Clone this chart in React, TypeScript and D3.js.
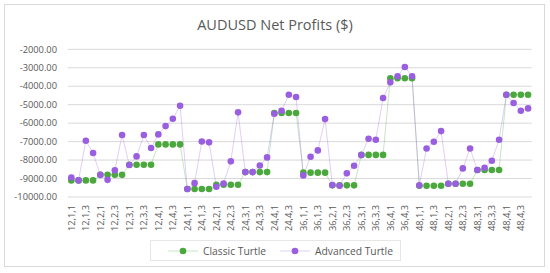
import * as d3 from 'd3';
import React from 'react';

const periods = [12, 24, 36, 48]
const groups = [1, 2, 3, 4]
const steps = [1, 2, 3, 4]
const categories = periods.flatMap(p => groups.flatMap(g => steps.map(s => `${p},${g},${s}`)))

const classicTurtle = [
    -9100, -9100, -9100, -9100, -8800, -8800, -8800, -8800,
    -8250, -8250, -8250, -8250, -7150, -7150, -7150, -7150,
    -9570, -9570, -9570, -9570, -9340, -9340, -9340, -9340,
    -8650, -8650, -8650, -8650, -5450, -5450, -5450, -5450,
    -8680, -8680, -8680, -8680, -9370, -9370, -9370, -9370,
    -7720, -7720, -7720, -7720, -3570, -3570, -3570, -3570,
    -9390, -9390, -9390, -9390, -9280, -9280, -9280, -9280,
    -8540, -8540, -8540, -8540, -4460, -4460, -4460, -4460,
]

const advancedTurtle = [
    -8940, -9100, -6950, -7620, -8800, -9070, -8560, -6645,
    -8270, -7800, -6645, -7350, -6610, -6160, -5760, -5055,
    -9570, -9250, -6990, -7040, -9445, -9265, -8070, -5415,
    -8650, -8650, -8290, -7855, -5490, -5330, -4460, -4585,
    -8830, -7820, -7475, -5780, -9350, -9390, -8720, -8310,
    -7730, -6845, -6900, -4640, -3790, -3465, -2960, -3465,
    -9370, -7370, -7010, -6430, -9280, -9280, -8450, -7370,
    -8540, -8415, -8035, -6900, -4460, -4910, -5330, -5200,
]

const yTicks = [-2000, -3000, -4000, -5000, -6000, -7000, -8000, -9000, -10000]

const series = [
    { name: 'Classic Turtle', values: classicTurtle, color: '#4aa83c' },
    { name: 'Advanced Turtle', values: advancedTurtle, color: '#9a5ee0' },
]

const W = 550
const H = 273
const font = '"Open Sans", "DejaVu Sans", sans-serif'
const textColor = '#595959'

export default function App() {
    const x = d3.scaleBand().domain(categories).range([67.7, 531.7])
    const y = d3.scaleLinear().domain([-10000, -2000]).range([197, 49.3])
    const cx = (i: number) => x(categories[i])! + x.bandwidth() / 2

    const line = d3.line<number>()
        .x((d, i) => cx(i))
        .y(d => y(d))

    return (
        <svg width={W} height={H} style={{ position: 'absolute', left: 0, top: 0, background: '#fff' }}
            fontFamily={font}>
            <rect x={4.5} y={4.5} width={540} height={262} fill="#fff" stroke="#d9d9d9" />
            <text x={W / 2} y={30} textAnchor="middle" fontSize={14.5} fill={textColor}>AUDUSD Net Profits ($)</text>

            {yTicks.map(t => (
                <g key={t}>
                    <line x1={67.7} x2={531.7} y1={y(t)} y2={y(t)} stroke="#d9d9d9" strokeWidth={1} />
                    <text x={57} y={y(t)} dy="0.35em" textAnchor="end" fontSize={9.3} fill={textColor}>{t.toFixed(2)}</text>
                </g>
            ))}

            {categories.map((c, i) => i % 2 === 0 ? (
                <text key={c} transform={`translate(${cx(i)},205) rotate(-90)`} dy="0.35em" textAnchor="end"
                    fontSize={9.3} fill={textColor}>{c}</text>
            ) : null)}

            {series.map(s => (
                <path key={s.name + 'l'} d={line(s.values)!} fill="none" stroke={s.color} strokeOpacity={0.3} strokeWidth={1} />
            ))}
            {series.map(s => (
                <g key={s.name}>
                    {s.values.map((v, i) => (
                        <circle key={i} cx={cx(i)} cy={y(v)} r={3.3} fill={s.color} />
                    ))}
                </g>
            ))}

            <rect x={150.5} y={240.5} width={250} height={20} fill="none" stroke="#e6e6e6" />
            {series.map((s, k) => {
                const lx = k === 0 ? 168 : 280
                return (
                    <g key={s.name + 'leg'}>
                        <line x1={lx} x2={lx + 30} y1={251} y2={251} stroke={s.color} strokeOpacity={0.3} />
                        <circle cx={lx + 15} cy={251} r={3.3} fill={s.color} />
                        <text x={lx + 35} y={251} dy="0.35em" fontSize={10.3} fill={textColor}>{s.name}</text>
                    </g>
                )
            })}
        </svg>
    )
}
